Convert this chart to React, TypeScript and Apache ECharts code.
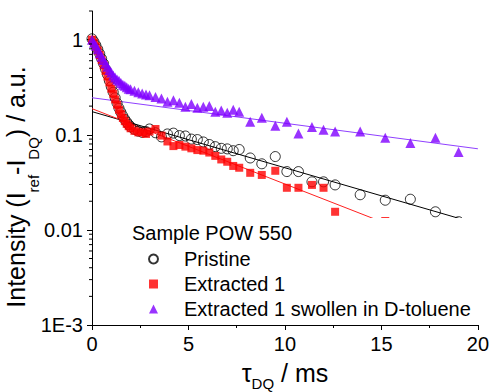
import React, { useEffect, useRef } from 'react';
import * as echarts from 'echarts';

// tau_DQ time points (ms)
const tauDQ = [
  0, 0.1, 0.2, 0.3, 0.4, 0.5, 0.6, 0.7, 0.8, 0.9,
  1.0, 1.1, 1.2, 1.3, 1.4, 1.5, 1.6, 1.7, 1.8, 1.9,
  2.0, 2.2, 2.4, 2.6, 2.8, 2.98, 3.29, 3.6, 3.91, 4.22,
  4.53, 4.84, 5.15, 5.46, 5.77, 6.08, 6.39, 6.7, 7.01, 7.32,
  7.63, 8.2, 8.8, 9.5, 10.1, 10.7, 11.4, 12.0, 12.6, 13.9,
  15.2, 16.5, 17.8, 19.0,
];

// Pristine (open circles)
const pristine = [
  1.02, 0.95, 0.87, 0.79, 0.71, 0.63, 0.56, 0.49, 0.43, 0.37,
  0.32, 0.28, 0.245, 0.215, 0.19, 0.172, 0.157, 0.145, 0.136, 0.128,
  0.121, 0.114, 0.109, 0.106, 0.108, 0.115, 0.105, 0.095, 0.102, 0.104,
  0.098, 0.097, 0.09, 0.089, 0.084, 0.079, 0.075, 0.072, 0.071, 0.068,
  0.07, 0.057, 0.0495, 0.059, 0.041, 0.041, 0.032, 0.032, 0.0297, 0.0234,
  0.0205, 0.021, 0.0155, 0.0122,
];

// Extracted 1 (red squares)
const extracted = [
  1.0, 0.93, 0.85, 0.77, 0.69, 0.61, 0.54, 0.47, 0.41, 0.355,
  0.305, 0.27, 0.235, 0.207, 0.183, 0.165, 0.15, 0.139, 0.13, 0.123,
  0.117, 0.11, 0.106, 0.106, 0.102, 0.108, 0.115, 0.098, 0.085, 0.076,
  0.078, 0.075, 0.072, 0.069, 0.068, 0.065, 0.06, 0.055, 0.052, 0.047,
  0.045, 0.0398, 0.0378, 0.0418, 0.0277, 0.0277, 0.0297, 0.0277, 0.0155, 0.0105,
  0.0124, 0.0085, 0.007, 0.006,
];

// Extracted 1 swollen in D-toluene (purple triangles)
const swollen = [
  1.0, 0.93, 0.86, 0.79, 0.72, 0.66, 0.61, 0.56, 0.52, 0.48,
  0.45, 0.42, 0.4, 0.38, 0.37, 0.35, 0.335, 0.328, 0.315, 0.305,
  0.3, 0.29, 0.28, 0.272, 0.265, 0.26, 0.25, 0.24, 0.222, 0.23,
  0.217, 0.197, 0.21, 0.192, 0.197, 0.2, 0.174, 0.18, 0.17, 0.183,
  0.175, 0.137, 0.151, 0.124, 0.137, 0.103, 0.121, 0.113, 0.108, 0.108,
  0.093, 0.082, 0.093, 0.066,
];

// Fitted mono-exponential tails (values at tau = 0 and tau = 20 ms)
const fitTau = [0, 20];
const fitPristine = [0.175, 0.01156];
const fitExtracted = [0.188, 0.0049];
const fitSwollen = [0.245, 0.0712];

const seriesNames = ['Pristine', 'Extracted 1', 'Extracted 1 swollen in D-toluene'];
const yTickLabels = ['1E-3', '0.01', '0.1', '1'];
const minorMultipliers = [2, 3, 4, 5, 6, 7, 8, 9];
const minorDecades = [0.001, 0.01, 0.1, 1];

const FONT = 'Arial, "Liberation Sans", Helvetica, sans-serif';

export default function App() {
  const ref = useRef<HTMLDivElement>(null);

  useEffect(() => {
    if (!ref.current) return;
    const chart = echarts.init(ref.current, undefined, { renderer: 'svg' });

    const pairs = (vals: number[]) => tauDQ.map((t, i) => [t, vals[i]]);
    const fitPairs = (vals: number[]) => fitTau.map((t, i) => [t, vals[i]]);
    const minorValues: number[][] = [];
    minorDecades.forEach((d) =>
      minorMultipliers.forEach((m) => {
        const v = d * m;
        if (v <= 2.0001) minorValues.push([0, v]);
      })
    );

    chart.setOption({
      animation: false,
      textStyle: { fontFamily: FONT },
      grid: { left: 92, right: 12, top: 11, bottom: 67, containLabel: false },
      xAxis: {
        type: 'value',
        min: 0,
        max: 20,
        interval: 5,
        axisLine: { show: true, onZero: false, lineStyle: { color: '#000', width: 1 } },
        axisTick: { show: true, inside: false, length: 5, lineStyle: { color: '#000', width: 1 } },
        minorTick: { show: true, splitNumber: 2, length: 3, lineStyle: { color: '#000', width: 1 } },
        splitLine: { show: false },
        axisLabel: { fontSize: 20, color: '#000', margin: 9, fontFamily: FONT },
      },
      yAxis: {
        type: 'log',
        logBase: 10,
        min: 0.001,
        max: 2,
        axisLine: { show: true, onZero: false, lineStyle: { color: '#000', width: 1 } },
        axisTick: { show: true, inside: false, length: 5, lineStyle: { color: '#000', width: 1 } },
        splitLine: { show: false },
        axisLabel: {
          fontSize: 20,
          color: '#000',
          margin: 9,
          fontFamily: FONT,
          showMaxLabel: false,
          formatter: (v: number) => {
            const k = Math.round(Math.log10(v));
            return yTickLabels[k + 3] ?? '';
          },
        },
      },
      legend: {
        data: seriesNames,
        orient: 'vertical',
        left: 148,
        top: 249,
        padding: 0,
        itemWidth: 9,
        itemHeight: 9,
        itemGap: 5,
        selectedMode: false,
        z: 4,
        textStyle: { fontSize: 20, color: '#000', fontFamily: FONT, lineHeight: 20, padding: [0, 0, 0, 21] },
      },
      graphic: [
        {
          type: 'rect',
          z: 3,
          shape: { x: 125, y: 218, width: 353, height: 105 },
          style: { fill: '#fff' },
          silent: true,
        },
        {
          type: 'text',
          z: 5,
          x: 132,
          y: 233,
          style: { text: 'Sample POW 550', fontSize: 20, fontFamily: FONT, fill: '#000', align: 'left', verticalAlign: 'middle' },
          silent: true,
        },
        {
          type: 'text',
          z: 5,
          x: 16,
          y: 187,
          rotation: Math.PI / 2,
          style: {
            text: '{a|Intensity (I}{s|ref}{a|-I}{s|DQ}{a|) / a.u.}',
            align: 'center',
            verticalAlign: 'middle',
            rich: {
              a: { fontSize: 25, lineHeight: 50, fontFamily: FONT, fill: '#000' },
              s: { fontSize: 15, lineHeight: 14, verticalAlign: 'bottom', fontFamily: FONT, fill: '#000' },
            },
          },
          silent: true,
        },
        {
          type: 'text',
          z: 5,
          x: 285,
          y: 373,
          style: {
            text: '{a|τ}{s|DQ}{a| / ms}',
            align: 'center',
            verticalAlign: 'middle',
            rich: {
              a: { fontSize: 25, lineHeight: 36, fontFamily: FONT, fill: '#000' },
              s: { fontSize: 15, lineHeight: 14, verticalAlign: 'bottom', fontFamily: FONT, fill: '#000' },
            },
          },
          silent: true,
        },
      ],
      series: [
        {
          name: seriesNames[0],
          type: 'scatter',
          symbol: 'circle',
          symbolSize: 10,
          data: pairs(pristine),
          itemStyle: { color: 'rgba(255,255,255,0)', borderColor: '#000', borderWidth: 1 },
          silent: true,
          z: 2,
        },
        {
          name: seriesNames[1],
          type: 'scatter',
          symbol: 'rect',
          symbolSize: 8,
          data: pairs(extracted),
          itemStyle: { color: '#ff0000' },
          silent: true,
          z: 2,
        },
        {
          name: seriesNames[2],
          type: 'scatter',
          symbol: 'triangle',
          symbolSize: 10,
          data: pairs(swollen),
          itemStyle: { color: '#8000ff' },
          silent: true,
          z: 2,
        },
        {
          name: 'fit pristine',
          type: 'line',
          data: fitPairs(fitPristine),
          showSymbol: false,
          lineStyle: { color: '#000', width: 1 },
          silent: true,
          z: 2,
        },
        {
          name: 'fit extracted',
          type: 'line',
          data: fitPairs(fitExtracted),
          showSymbol: false,
          lineStyle: { color: '#ff2020', width: 1 },
          silent: true,
          z: 2,
        },
        {
          name: 'fit swollen',
          type: 'line',
          data: fitPairs(fitSwollen),
          showSymbol: false,
          lineStyle: { color: '#9040ff', width: 1 },
          silent: true,
          z: 2,
        },
        {
          name: 'minor y ticks',
          type: 'custom',
          silent: true,
          clip: false,
          z: 3,
          data: minorValues,
          renderItem: (_params: any, api: any) => {
            const p = api.coord([0, api.value(1)]);
            return {
              type: 'line',
              shape: { x1: p[0] - 3, y1: p[1], x2: p[0], y2: p[1] },
              style: { stroke: '#000', lineWidth: 1 },
            };
          },
        },
      ],
    });

    return () => chart.dispose();
  }, []);

  return (
    <div
      ref={ref}
      style={{ position: 'absolute', left: 0, top: 0, width: 492, height: 392 }}
    />
  );
}
